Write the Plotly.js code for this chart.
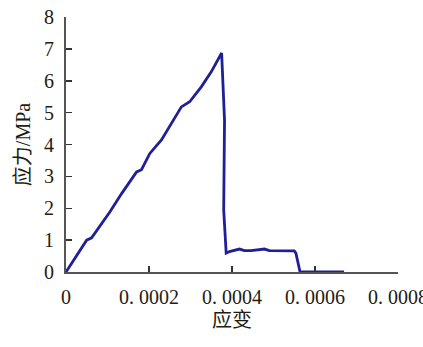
<!DOCTYPE html>
<html>
<head>
<meta charset="utf-8">
<script src="https://cdn.plot.ly/plotly-3.0.1.min.js"></script>
<style>html,body{margin:0;padding:0;background:#fff;}#chart{width:423px;height:347px;}</style>
</head>
<body>
<div id="chart"></div>
<script>
const strain = [0, 0.0000256, 0.0000497, 0.0000617, 0.000106, 0.000134, 0.00017, 0.000182, 0.000202, 0.00023, 0.000278, 0.000298, 0.000326, 0.00035, 0.000375, 0.000382, 0.00038, 0.000386, 0.000394, 0.000418, 0.00043, 0.000446, 0.000478, 0.00049, 0.00055, 0.000554, 0.000564, 0.00067];
const stress = [0, 0.53, 1.0, 1.07, 1.89, 2.46, 3.14, 3.21, 3.72, 4.14, 5.18, 5.34, 5.81, 6.28, 6.87, 4.76, 1.94, 0.59, 0.64, 0.72, 0.67, 0.67, 0.72, 0.67, 0.66, 0.59, 0.0, 0.0];
const xTickVals = [0, 0.0002, 0.0004, 0.0006, 0.0008];
const xTickText = ['0', '0. 0002', '0. 0004', '0. 0006', '0. 0008'];
const yTickVals = [0, 1, 2, 3, 4, 5, 6, 7, 8];

const serif = 'Liberation Serif, serif';
const cjk = 'Liberation Serif, Noto Sans CJK SC, serif';
const txt = '#241c10';

Plotly.newPlot('chart', [{
  x: strain, y: stress, type: 'scatter', mode: 'lines',
  line: {color: '#1f1f96', width: 2.8}
}], {
  width: 423, height: 347,
  font: {family: serif, size: 20, color: txt},
  margin: {l: 66, r: 25, t: 17, b: 75},
  paper_bgcolor: '#fff', plot_bgcolor: '#fff',
  showlegend: false,
  xaxis: {
    range: [0, 0.0008], tickvals: xTickVals, ticktext: xTickText,
    showgrid: false, zeroline: false, showline: true, linecolor: '#555', linewidth: 2,
    ticks: 'inside', ticklen: 6, tickcolor: '#333', tickwidth: 1.5,
    tickfont: {family: serif, size: 20, color: txt},
    ticklabelstandoff: 6, ticklabeloverflow: 'allow',
    title: {text: '应变', font: {family: cjk, size: 20, color: txt}, standoff: 6}
  },
  yaxis: {
    range: [0, 8], tickvals: yTickVals,
    showgrid: false, zeroline: false, showline: true, linecolor: '#555', linewidth: 2,
    ticks: 'inside', ticklen: 6, tickcolor: '#333', tickwidth: 1.5,
    tickfont: {family: serif, size: 20, color: txt},
    ticklabelstandoff: 6, ticklabeloverflow: 'allow',
    title: {text: '应力/MPa', font: {family: cjk, size: 20, color: txt}, standoff: 8}
  }
}, {displayModeBar: false, staticPlot: true});
</script>
</body>
</html>
